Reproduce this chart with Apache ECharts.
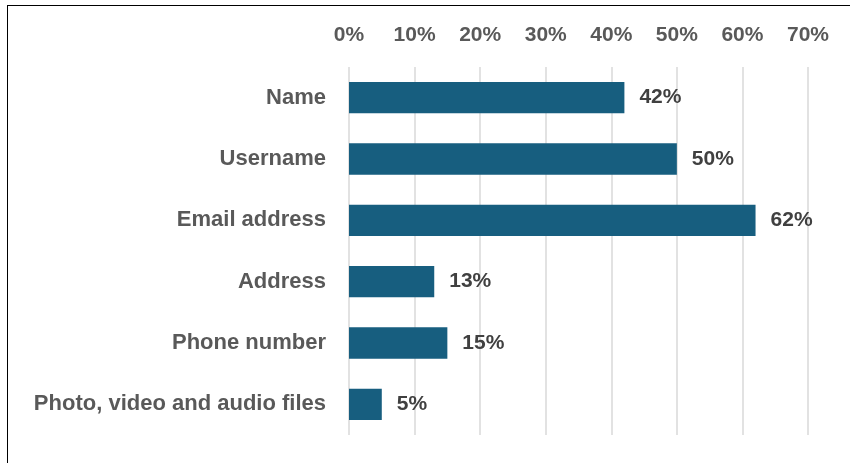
<!DOCTYPE html>
<html>
<head>
<meta charset="utf-8">
<script src="https://cdn.jsdelivr.net/npm/echarts@6/dist/echarts.min.js"></script>
<style>
  html, body { margin: 0; padding: 0; background: #fff; }
  #frame { position: absolute; left: 7px; top: 5px; width: 900px; height: 500px; border: 1.5px solid #000; box-sizing: border-box; }
  #chart { position: absolute; left: 0; top: 0; width: 850px; height: 463px; }
</style>
</head>
<body>
<div id="frame"></div>
<div id="chart"></div>
<script>
// Share of respondents reporting each kind of personal data
const categories = ['Name', 'Username', 'Email address', 'Address', 'Phone number', 'Photo, video and audio files'];
const values = [42, 50, 62, 13, 15, 5];
const tickMin = 0, tickMax = 70, tickStep = 10;

const font = 'Liberation Sans, Arial, sans-serif';
const chart = echarts.init(document.getElementById('chart'), null, { renderer: 'canvas' });
chart.setOption({
  animation: false,
  grid: { left: 349, right: 42, top: 67, bottom: 28, containLabel: false },
  xAxis: {
    type: 'value', position: 'top', min: tickMin, max: tickMax, interval: tickStep,
    axisLine: { show: false }, axisTick: { show: false },
    splitLine: { lineStyle: { color: '#d9d9d9', width: 1.5 } },
    axisLabel: { formatter: '{value}%', color: '#595959', fontFamily: font, fontWeight: 'bold', fontSize: 21, margin: 21 }
  },
  yAxis: {
    type: 'category', data: categories, inverse: true,
    axisLine: { show: false }, axisTick: { show: false },
    axisLabel: { color: '#595959', fontFamily: font, fontWeight: 'bold', fontSize: 22, margin: 23 }
  },
  series: [{
    type: 'bar', data: values, barWidth: '51%',
    itemStyle: { color: '#175E7F' },
    label: { show: true, position: 'right', distance: 15, formatter: '{c}%', color: '#404040', fontFamily: font, fontWeight: 'bold', fontSize: 21 }
  }]
});
</script>
</body>
</html>
